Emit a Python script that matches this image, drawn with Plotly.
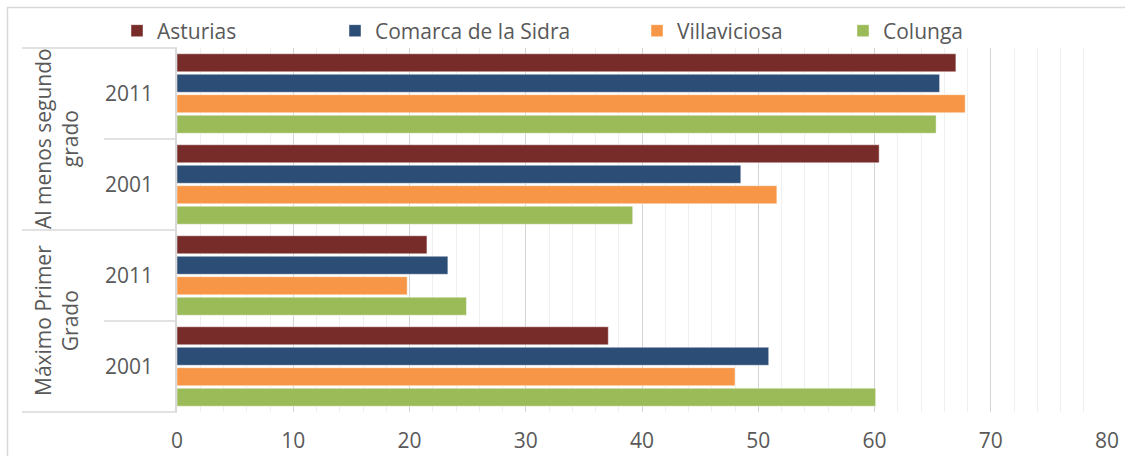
import plotly.graph_objects as go

# ---- data ----
categories = ["Al menos segundo grado|2011", "Al menos segundo grado|2001",
              "Máximo Primer Grado|2011", "Máximo Primer Grado|2001"]
year_labels = ["2011", "2001", "2011", "2001"]
group_labels = ["Al menos segundo<br>grado", "Máximo Primer<br>Grado"]
series_names = ["Asturias", "Comarca de la Sidra", "Villaviciosa", "Colunga"]
asturias = [67.0, 60.4, 21.5, 37.1]
comarca = [65.6, 48.5, 23.3, 50.9]
villaviciosa = [67.8, 51.6, 19.8, 48.0]
colunga = [65.3, 39.2, 24.9, 60.1]
x_ticks = [0, 10, 20, 30, 40, 50, 60, 70, 80]

colors = ["#772C2A", "#2C4D75", "#F79646", "#9BBB59"]
series_values = [asturias, comarca, villaviciosa, colunga]

FONT = "Open Sans"
FS = 21
TXT = "#595959"
W, H = 1125, 456
L, R, T, B = 177, 18, 48, 44
PW, PH = W - L - R, H - T - B

def px_x(px):
    return (px - L) / PW

def px_y(py):
    return (H - B - py) / PH

fig = go.Figure()
legend_keys = ["legend", "legend2", "legend3", "legend4"]
legend_sym_px = [131, 349, 651, 857]
for i, (name, vals) in enumerate(zip(series_names, series_values)):
    fig.add_trace(go.Bar(
        y=categories, x=vals, name=name, orientation="h",
        marker=dict(color=colors[i], line=dict(color="rgba(255,255,255,0.45)", width=1)),
        legend=legend_keys[i], showlegend=True,
    ))

layout_legends = {}
for key, sx in zip(legend_keys, legend_sym_px):
    layout_legends[key] = dict(
        x=px_x(sx - 14), y=px_y(31), xanchor="left", yanchor="middle",
        orientation="h", bgcolor="rgba(0,0,0,0)",
        font=dict(family=FONT, size=FS, color=TXT),
        itemclick=False, itemdoubleclick=False,
    )

shapes = []
line_col = "#D9D9D9"
# category dividers (long at group borders, short at year borders)
for frac, left_px in [(1.0, 22), (0.75, 104), (0.5, 22), (0.25, 104), (0.0, 22)]:
    shapes.append(dict(type="line", xref="paper", yref="paper",
                       x0=px_x(left_px), x1=0, y0=frac, y1=frac,
                       line=dict(color=line_col, width=1.5), layer="above"))
# chart border (left and top visible)
shapes.append(dict(type="rect", xref="paper", yref="paper",
                   x0=px_x(7.5), x1=px_x(1135), y0=px_y(7.5), y1=px_y(470),
                   line=dict(color="#D9D9D9", width=1.5), fillcolor="rgba(0,0,0,0)",
                   layer="below"))

annotations = []
for gi, g in enumerate(group_labels):
    annotations.append(dict(
        text=g, xref="paper", yref="paper", x=px_x(56), y=0.75 - 0.5 * gi,
        xanchor="center", yanchor="middle", textangle=-90, showarrow=False,
        font=dict(family=FONT, size=FS, color=TXT), align="center",
    ))

fig.update_layout(
    width=W, height=H,
    margin=dict(l=L, r=R, t=T, b=B, autoexpand=False),
    paper_bgcolor="white", plot_bgcolor="white",
    barmode="group", bargap=0.1, bargroupgap=0.12,
    shapes=shapes, annotations=annotations, showlegend=True,
    **layout_legends,
)
fig.update_xaxes(
    range=[0, 80], tickvals=x_ticks, ticktext=[str(v) for v in x_ticks],
    showgrid=True, gridcolor="#D4D4D4", gridwidth=1.4,
    minor=dict(dtick=2, showgrid=True, gridcolor="#EFEFEF", gridwidth=1),
    zeroline=False, showline=False, ticks="", ticklabelstandoff=14,
    tickfont=dict(family=FONT, size=FS, color=TXT),
)
fig.update_yaxes(
    type="category", autorange="reversed",
    tickmode="array", tickvals=categories, ticktext=year_labels,
    showline=True, linecolor=line_col, linewidth=1.5,
    showgrid=False, ticks="", ticklabelstandoff=18,
    tickfont=dict(family=FONT, size=FS, color=TXT),
)

fig.write_html(
    "out.html",
    config={"displayModeBar": False},
    post_script="document.body.style.margin='0';document.body.style.overflow='hidden';",
)
